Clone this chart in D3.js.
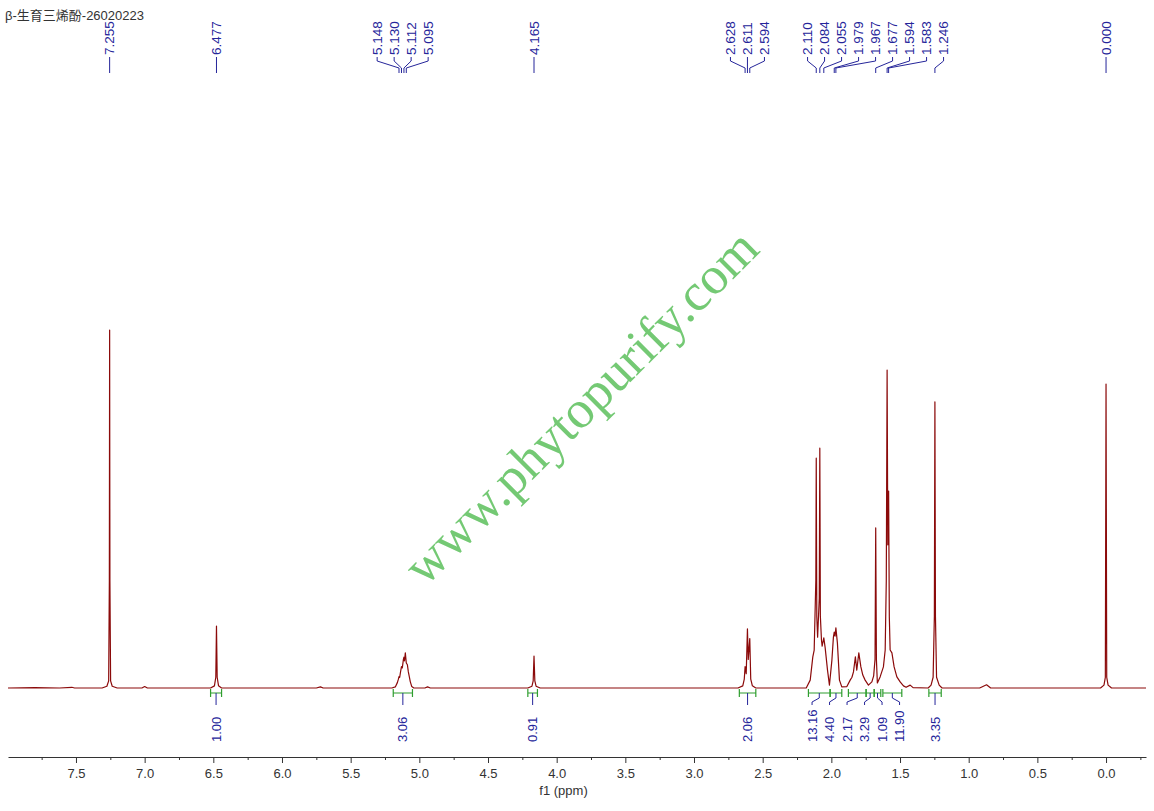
<!DOCTYPE html>
<html>
<head>
<meta charset="utf-8">
<style>
body { margin: 0; background: #fff; }
svg { display: block; font-family: "Liberation Sans", Arial, sans-serif; }
</style>
</head>
<body>
<script src="https://cdn.jsdelivr.net/npm/d3@7"></script>
<script>

var title = "β-生育三烯酚-26020223";
var watermark = "www.phytopurify.com";

// spectrum: [ppm, intensity in % of the 7.255 line]
var spectrum = [
  [7.995, 0.0], [7.80, 0.1], [7.62, 0.0], [7.53, 0.2], [7.51, 0.0],
  [7.31, 0.0], [7.275, 0.5], [7.262, 2.0], [7.257, 30], [7.255, 100], [7.253, 30], [7.248, 2.0], [7.236, 0.5], [7.20, 0.0],
  [7.02, 0.0], [7.00, 0.4], [6.98, 0.0],
  [6.52, 0.0], [6.492, 0.6], [6.482, 3.0], [6.477, 17.3], [6.472, 3.0], [6.462, 0.6], [6.44, 0.0],
  [5.75, 0.0], [5.72, 0.3], [5.70, 0.0],
  [5.20, 0.0], [5.175, 0.3], [5.16, 1.5], [5.153, 2.4], [5.148, 3.2], [5.143, 3.0], [5.138, 4.2], [5.130, 6.0],
  [5.124, 5.6], [5.116, 8.0], [5.112, 8.6], [5.108, 7.6], [5.102, 9.8], [5.095, 7.0], [5.087, 6.5], [5.080, 4.5],
  [5.072, 3.0], [5.066, 1.8], [5.055, 0.4], [5.04, 0.0],
  [4.96, 0.0], [4.94, 0.3], [4.92, 0.0],
  [4.21, 0.0], [4.18, 0.5], [4.171, 2.0], [4.165, 8.9], [4.159, 2.0], [4.15, 0.5], [4.12, 0.0],
  [2.68, 0.0], [2.645, 0.6], [2.634, 2.5], [2.628, 6.0], [2.620, 4.0], [2.611, 16.5], [2.605, 8.0], [2.594, 13.8],
  [2.587, 2.5], [2.575, 0.6], [2.55, 0.0],
  [2.30, 0.0], [2.183, 0.0], [2.154, 2.2], [2.135, 8.7], [2.125, 10.6], [2.113, 30], [2.110, 64.2], [2.106, 20],
  [2.100, 14.2], [2.088, 25], [2.084, 67.0], [2.080, 20], [2.072, 13.4], [2.067, 11.7], [2.055, 14.0], [2.045, 11.2],
  [2.028, 5.0], [2.014, 0.8], [1.996, 7.8], [1.985, 14.2], [1.979, 15.6], [1.973, 14.5], [1.967, 16.8], [1.956, 12.6],
  [1.941, 2.2], [1.924, 0.3], [1.887, 0.4], [1.863, 2.2], [1.850, 3.0], [1.839, 4.5], [1.825, 8.7], [1.815, 5.0],
  [1.800, 9.8], [1.785, 5.9], [1.771, 3.6], [1.754, 2.2], [1.730, 0.8], [1.705, 1.7], [1.692, 3.4], [1.682, 8.0],
  [1.677, 44.7], [1.672, 8.0], [1.665, 1.4], [1.645, 3.1], [1.621, 5.9], [1.608, 10.6], [1.600, 30], [1.594, 88.8],
  [1.589, 40], [1.583, 55], [1.578, 20], [1.572, 10.6], [1.559, 9.8], [1.543, 5.9], [1.523, 3.1], [1.499, 1.7],
  [1.475, 0.6], [1.456, 0.2], [1.426, 0.8], [1.405, 0.1],
  [1.295, 0.0], [1.274, 0.8], [1.259, 3.0], [1.250, 20], [1.246, 79.9], [1.242, 20], [1.234, 3.0], [1.215, 0.8], [1.194, 0.0],
  [0.92, 0.0], [0.87, 0.9], [0.84, 0.0],
  [0.04, 0.0], [0.015, 0.8], [0.005, 3.0], [0.000, 84.9], [-0.005, 3.0], [-0.015, 0.8], [-0.04, 0.0], [-0.291, 0.0]
];

// peak picking labels
var peakPpm = [7.255, 6.477, 5.148, 5.130, 5.112, 5.095, 4.165, 2.628, 2.611, 2.594,
               2.110, 2.084, 2.055, 1.979, 1.967, 1.677, 1.594, 1.583, 1.246, 0.000];
var peakGroup = [0, 1, 2, 2, 2, 2, 3, 4, 4, 4, 5, 5, 5, 5, 5, 5, 5, 5, 5, 7];

// integrals
var integralFrom = [6.52, 5.19, 4.21, 2.67, 2.167, 2.009, 1.876, 1.747, 1.688, 1.625, 1.29];
var integralTo   = [6.44, 5.05, 4.14, 2.55, 2.009, 1.924, 1.747, 1.688, 1.640, 1.487, 1.20];
var integralValue = ["1.00", "3.06", "0.91", "2.06", "13.16", "4.40", "2.17", "3.29", "1.09", "11.90", "3.35"];
var integralGroup = [0, 1, 2, 3, 4, 4, 4, 4, 4, 4, 5];

// axis
var majorTicks = [7.5, 7.0, 6.5, 6.0, 5.5, 5.0, 4.5, 4.0, 3.5, 3.0, 2.5, 2.0, 1.5, 1.0, 0.5, 0.0];
var minorTicks = [7.75, 7.25, 6.75, 6.25, 5.75, 5.25, 4.75, 4.25, 3.75, 3.25, 2.75, 2.25, 1.75, 1.25, 0.75, 0.25, -0.25];
var axisTitle = "f1 (ppm)";

var width = 1154, height = 811;
var baseY = 688, axisY = 757;
var blue = "#25259a", green = "#2f9e2f", red = "#8b0a0a";

var svg = d3.select("body").append("svg")
  .attr("width", width)
  .attr("height", height);

var x = d3.scaleLinear().domain([7.995, -0.291]).range([8, 1146]);
var y = d3.scaleLinear().domain([0, 100]).range([baseY, 330]);

// watermark
svg.append("text")
  .attr("transform", "translate(582,408) rotate(-45)")
  .attr("text-anchor", "middle")
  .attr("dy", "0.3em")
  .attr("font-family", "'Liberation Serif', 'Times New Roman', serif")
  .attr("font-size", 53)
  .attr("fill", "#74c974")
  .text(watermark);

// title
svg.append("text")
  .attr("x", 5).attr("y", 20)
  .attr("font-family", "'Liberation Sans', 'Noto Sans CJK SC', sans-serif")
  .attr("font-size", 13)
  .attr("fill", "#333")
  .text(title);

// spectrum
var line = d3.line()
  .x(function(d) { return x(d[0]); })
  .y(function(d) { return y(d[1]); });

svg.append("path")
  .datum(spectrum)
  .attr("d", line)
  .attr("fill", "none")
  .attr("stroke", red)
  .attr("stroke-width", 1.2)
  .attr("stroke-linejoin", "round");

// spread labels of one group evenly round the middle of the group
function spread(xs, groups, gap) {
  var out = xs.slice();
  d3.group(d3.range(xs.length), function(i) { return groups[i]; }).forEach(function(idx) {
    if (idx.length < 2) return;
    var c = (xs[idx[0]] + xs[idx[idx.length - 1]]) / 2, n = idx.length;
    idx.forEach(function(i, k) { out[i] = c + (k - (n - 1) / 2) * gap; });
  });
  return out;
}

// peak labels
var peakX = peakPpm.map(function(p) { return x(p); });
var peakLx = spread(peakX, peakGroup, 17);

var peaks = svg.append("g");
peakPpm.forEach(function(p, i) {
  var px = peakX[i], lx = peakLx[i];
  peaks.append("path")
    .attr("d", "M" + lx + ",57L" + lx + ",61L" + px + ",68L" + px + ",73")
    .attr("fill", "none")
    .attr("stroke", blue)
    .attr("stroke-width", 1);
  peaks.append("text")
    .attr("transform", "translate(" + lx + ",55) rotate(-90)")
    .attr("dy", "0.35em")
    .attr("font-size", 13.5)
    .attr("fill", blue)
    .text(p.toFixed(3));
});

// integrals
var intX = integralFrom.map(function(f, i) { return (x(f) + x(integralTo[i])) / 2; });
var intLx = spread(intX, integralGroup, 17.5);

var ints = svg.append("g");
integralValue.forEach(function(v, i) {
  var x0 = x(integralFrom[i]), x1 = x(integralTo[i]), cx = intX[i], lx = intLx[i];
  ints.append("path")
    .attr("d", "M" + x0 + ",689V697M" + x0 + ",693H" + x1 + "M" + x1 + ",689V697")
    .attr("fill", "none")
    .attr("stroke", green)
    .attr("stroke-width", 1.2);
  ints.append("path")
    .attr("d", "M" + cx + ",693V698L" + lx + ",702V705")
    .attr("fill", "none")
    .attr("stroke", blue)
    .attr("stroke-width", 1);
  ints.append("text")
    .attr("transform", "translate(" + lx + ",742) rotate(-90)")
    .attr("dy", "0.35em")
    .attr("font-size", 13)
    .attr("fill", blue)
    .text(v);
});

// axis
var xAxis = d3.axisBottom(x)
  .tickValues(majorTicks)
  .tickFormat(d3.format(".1f"))
  .tickSize(6)
  .tickSizeOuter(0)
  .tickPadding(6);

var gx = svg.append("g")
  .attr("transform", "translate(0," + axisY + ")")
  .call(xAxis);
gx.selectAll("text").attr("font-size", 13).attr("font-family", "'Liberation Sans', Arial, sans-serif").attr("fill", "#333");
gx.selectAll("line").attr("stroke", "#333");
gx.select(".domain").attr("stroke", "#333");

var gMinor = svg.append("g")
  .attr("transform", "translate(0," + axisY + ")")
  .call(d3.axisBottom(x).tickValues(minorTicks).tickSize(3).tickSizeOuter(0).tickFormat(""));
gMinor.select(".domain").remove();
gMinor.selectAll("line").attr("stroke", "#333");

svg.append("text")
  .attr("x", x(3.95)).attr("y", 795)
  .attr("text-anchor", "middle")
  .attr("font-size", 13)
  .attr("fill", "#333")
  .text(axisTitle);

</script>
</body>
</html>
